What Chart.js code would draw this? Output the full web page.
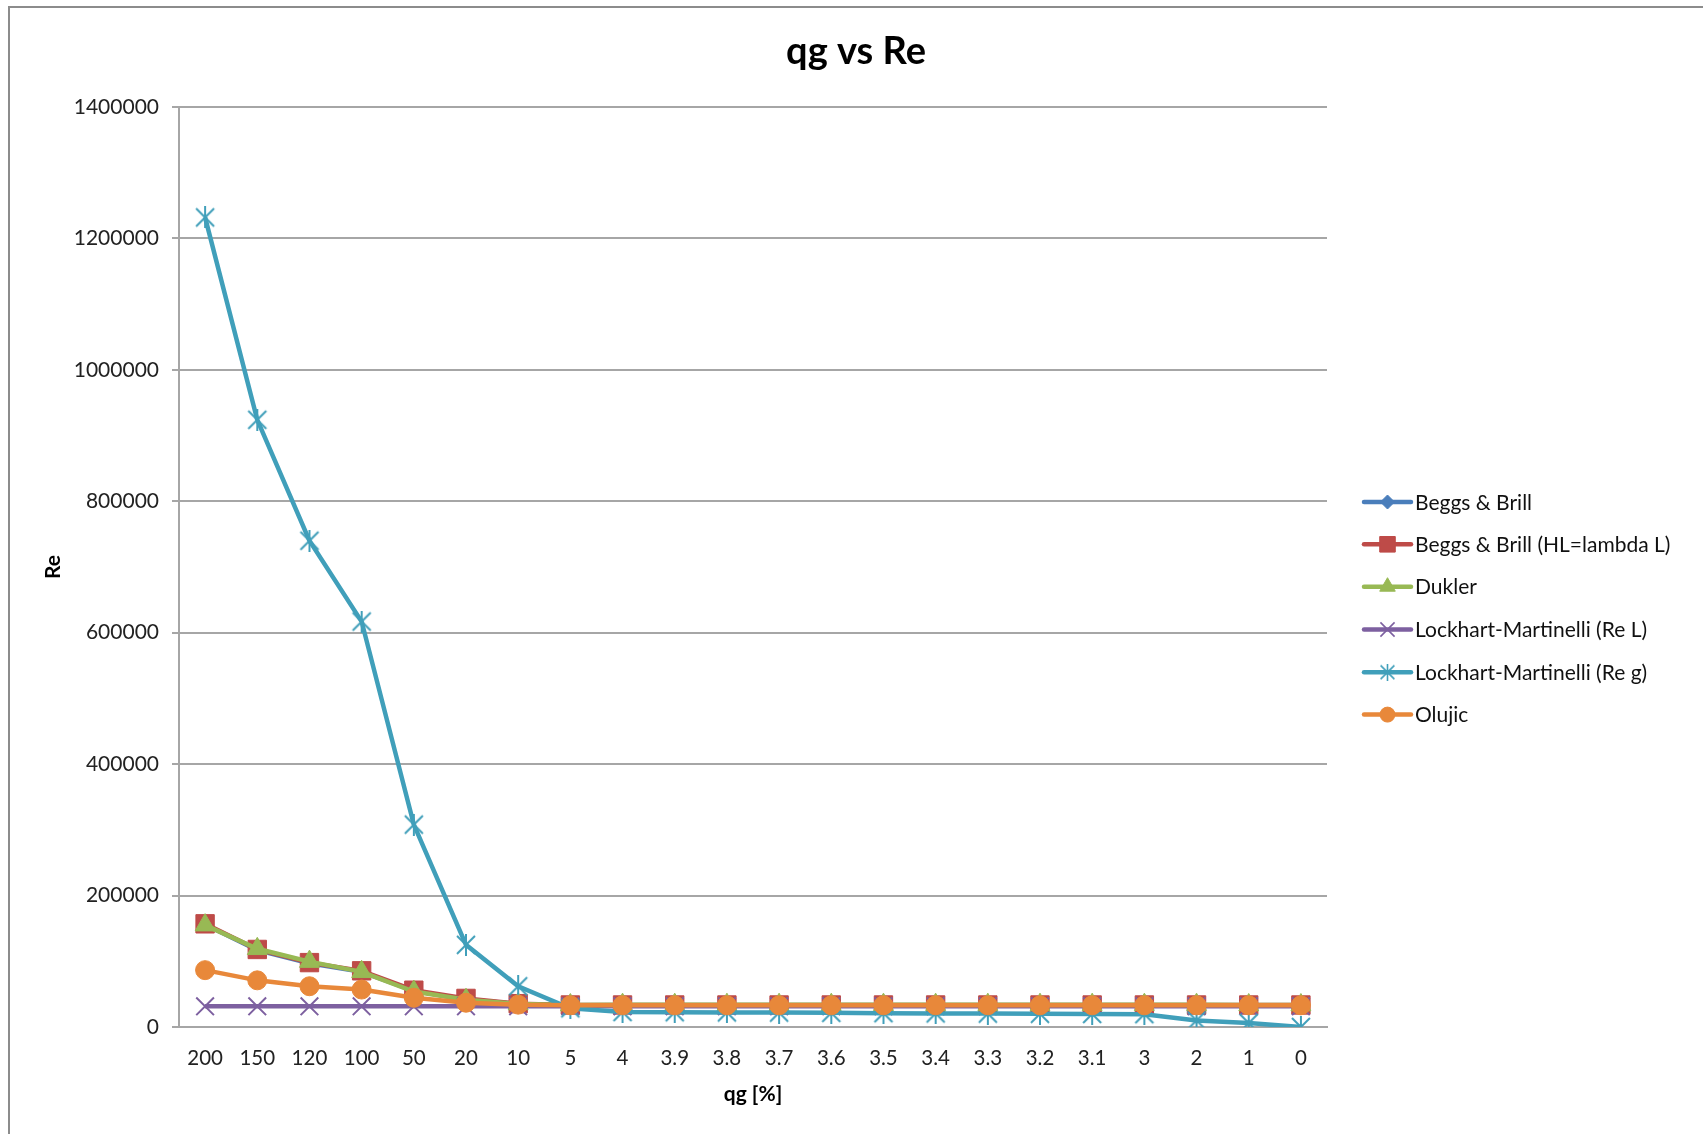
<!DOCTYPE html>
<html>
<head>
<meta charset="utf-8">
<title>qg vs Re</title>
<script src="https://cdn.jsdelivr.net/npm/chart.js@4.4.1/dist/chart.umd.min.js"></script>
<style>
html, body { margin:0; padding:0; background:#fff; overflow:hidden; }
#wrap { position:absolute; left:0; top:0; width:1703px; height:1134px; }
#frame { position:absolute; left:8px; top:6px; width:1720px; height:1160px; border-top:2px solid #8c8c8c; border-left:2px solid #8c8c8c; }
#myChart { position:absolute; left:0; top:0; }
</style>
</head>
<body>
<div id="wrap">
<div id="frame"></div>
<canvas id="myChart" width="1703" height="1134"></canvas>
</div>
<script>
// categories (qg in %)
var qg = ["200","150","120","100","50","20","10","5","4","3.9","3.8","3.7","3.6","3.5","3.4","3.3","3.2","3.1","3","2","1","0"];

// Re values per method
var beggsBrill   = [156000,117000,97000,84000,55000,42000,35000,33000,33000,33000,33000,33000,33000,33000,33000,33000,33000,33000,33000,33000,33000,33000];
var beggsBrillHL = [157000,118000,98000,85500,56000,43500,35500,33500,33500,33500,33500,33500,33500,33500,33500,33500,33500,33500,33500,33500,33500,33500];
var dukler       = [155000,119000,99500,84000,54000,41500,35000,33500,34000,34000,34000,34000,34000,34000,34000,34000,34000,34000,34000,34000,33500,33500];
var lmReL        = [31500,31500,31500,31500,31500,31500,31500,31500,31500,31500,31500,31500,31500,31500,31500,31500,31500,31500,31500,31500,31500,31500];
var lmReG        = [1232000,924000,740000,617000,308000,125000,62000,28500,22800,22500,22200,21900,21500,21100,20700,20400,20100,19800,19500,10000,6000,0];
var olujic       = [86500,71000,62000,57000,44500,37000,34000,33000,33000,33000,33000,33000,33000,33000,33000,33000,33000,33000,33000,33000,33000,33000];

var yTicks = [0,200000,400000,600000,800000,1000000,1200000,1400000];

var colBlue = "#4a7ebb";
var colRed = "#be4b48";
var colGreen = "#98b954";
var colPurple = "#7d60a0";
var colTeal = "#409fba";
var colOrange = "#e8883a";

var fontFam = "Lato, 'Open Sans', sans-serif";

function makeAsterisk(size, color, lw){
    var c = document.createElement("canvas");
    c.width = size; c.height = size;
    var g = c.getContext("2d");
    var m = lw;
    g.strokeStyle = color;
    g.lineWidth = lw;
    g.beginPath();
    g.moveTo(m, m); g.lineTo(size - m, size - m);
    g.moveTo(size - m, m); g.lineTo(m, size - m);
    g.moveTo(size / 2, 0); g.lineTo(size / 2, size);
    g.stroke();
    return c;
}
var starBig = makeAsterisk(22, colTeal, 2);
var starSmall = makeAsterisk(17, colTeal, 1.6);

var series = [
    {label:"Beggs & Brill", data:beggsBrill, color:colBlue, style:"rectRot", r:8, lr:7, order:6},
    {label:"Beggs & Brill (HL=lambda L)", data:beggsBrillHL, color:colRed, style:"rect", r:13, lr:11, order:5},
    {label:"Dukler", data:dukler, color:colGreen, style:"triangle", r:11.5, lr:9, order:4},
    {label:"Lockhart-Martinelli (Re L)", data:lmReL, color:colPurple, style:"crossRot", r:12.5, lr:10, order:3},
    {label:"Lockhart-Martinelli (Re g)", data:lmReG, color:colTeal, style:starBig, legendStyle:starSmall, r:11, lr:8, order:2},
    {label:"Olujic", data:olujic, color:colOrange, style:"circle", r:9.5, lr:7.5, order:1}
];

var datasets = series.map(function(s){
    return {
        label: s.label,
        data: s.data,
        borderColor: s.color,
        backgroundColor: s.color,
        borderWidth: 4.5,
        pointStyle: s.style,
        pointRadius: s.r,
        pointHoverRadius: s.r,
        pointBorderColor: s.color,
        pointBackgroundColor: s.color,
        pointBorderWidth: (s.style === "crossRot") ? 2 : 1,
        tension: 0,
        order: s.order
    };
});

// title + legend drawn by hand so they sit where Excel put them
var extrasPlugin = {
    id: "extras",
    afterDraw: function(chart){
        var ctx = chart.ctx;
        ctx.save();
        ctx.fillStyle = "#000";
        ctx.font = "bold 38px " + fontFam;
        ctx.textAlign = "center";
        ctx.textBaseline = "middle";
        ctx.fillText("qg vs Re", 856, 52);

        var ys = [502, 544.3, 586.7, 629.5, 672.2, 714.6];
        ctx.font = "21px " + fontFam;
        ctx.textAlign = "left";
        series.forEach(function(s, i){
            var y = ys[i];
            ctx.strokeStyle = s.color;
            ctx.lineWidth = 4.5;
            ctx.lineCap = "round";
            ctx.beginPath();
            ctx.moveTo(1364, y);
            ctx.lineTo(1411, y);
            ctx.stroke();
            ctx.lineCap = "butt";
            ctx.fillStyle = s.color;
            ctx.lineWidth = (s.style === "crossRot") ? 1.6 : 1;
            if (Chart.helpers && Chart.helpers.drawPoint) {
                Chart.helpers.drawPoint(ctx, {
                    pointStyle: s.legendStyle || s.style,
                    rotation: 0,
                    radius: s.lr,
                    borderWidth: ctx.lineWidth
                }, 1387.5, y);
            }
            ctx.fillStyle = "#111";
            ctx.fillText(s.label, 1415, y + 1);
        });
        ctx.restore();
    }
};

var gridCol = "#a6a6a6";

new Chart("myChart", {
    type: "line",
    data: {
        labels: qg,
        datasets: datasets
    },
    options: {
        responsive: false,
        animation: false,
        events: [],
        layout: {
            padding: {top: 107, right: 376, left: 0, bottom: 0}
        },
        plugins: {
            legend: {display: false},
            title: {display: false},
            tooltip: {enabled: false}
        },
        scales: {
            x: {
                offset: true,
                grid: {display: false, drawTicks: false},
                border: {display: true, color: gridCol, width: 2},
                ticks: {
                    color: "#222",
                    font: {family: fontFam, size: 20.5},
                    padding: 19,
                    maxRotation: 0,
                    autoSkip: false
                },
                title: {
                    display: true,
                    text: "qg [%]",
                    color: "#000",
                    font: {family: fontFam, size: 21, weight: "bold"},
                    padding: {top: 0, bottom: 27}
                },
                afterFit: function(scale){ scale.height = 107; }
            },
            y: {
                min: 0,
                max: 1400000,
                afterBuildTicks: function(scale){
                    scale.ticks = yTicks.map(function(v){ return {value: v}; });
                },
                grid: {color: gridCol, lineWidth: 2, tickLength: 7, drawTicks: true},
                border: {display: true, color: gridCol, width: 2},
                ticks: {
                    color: "#222",
                    font: {family: fontFam, size: 21},
                    padding: 13,
                    callback: function(v){ return String(v); }
                },
                title: {
                    display: true,
                    text: "Re",
                    color: "#000",
                    font: {family: fontFam, size: 21, weight: "bold"},
                    padding: {top: 41, bottom: 0}
                },
                afterFit: function(scale){ scale.width = 179; }
            }
        }
    },
    plugins: [extrasPlugin]
});
</script>
</body>
</html>
